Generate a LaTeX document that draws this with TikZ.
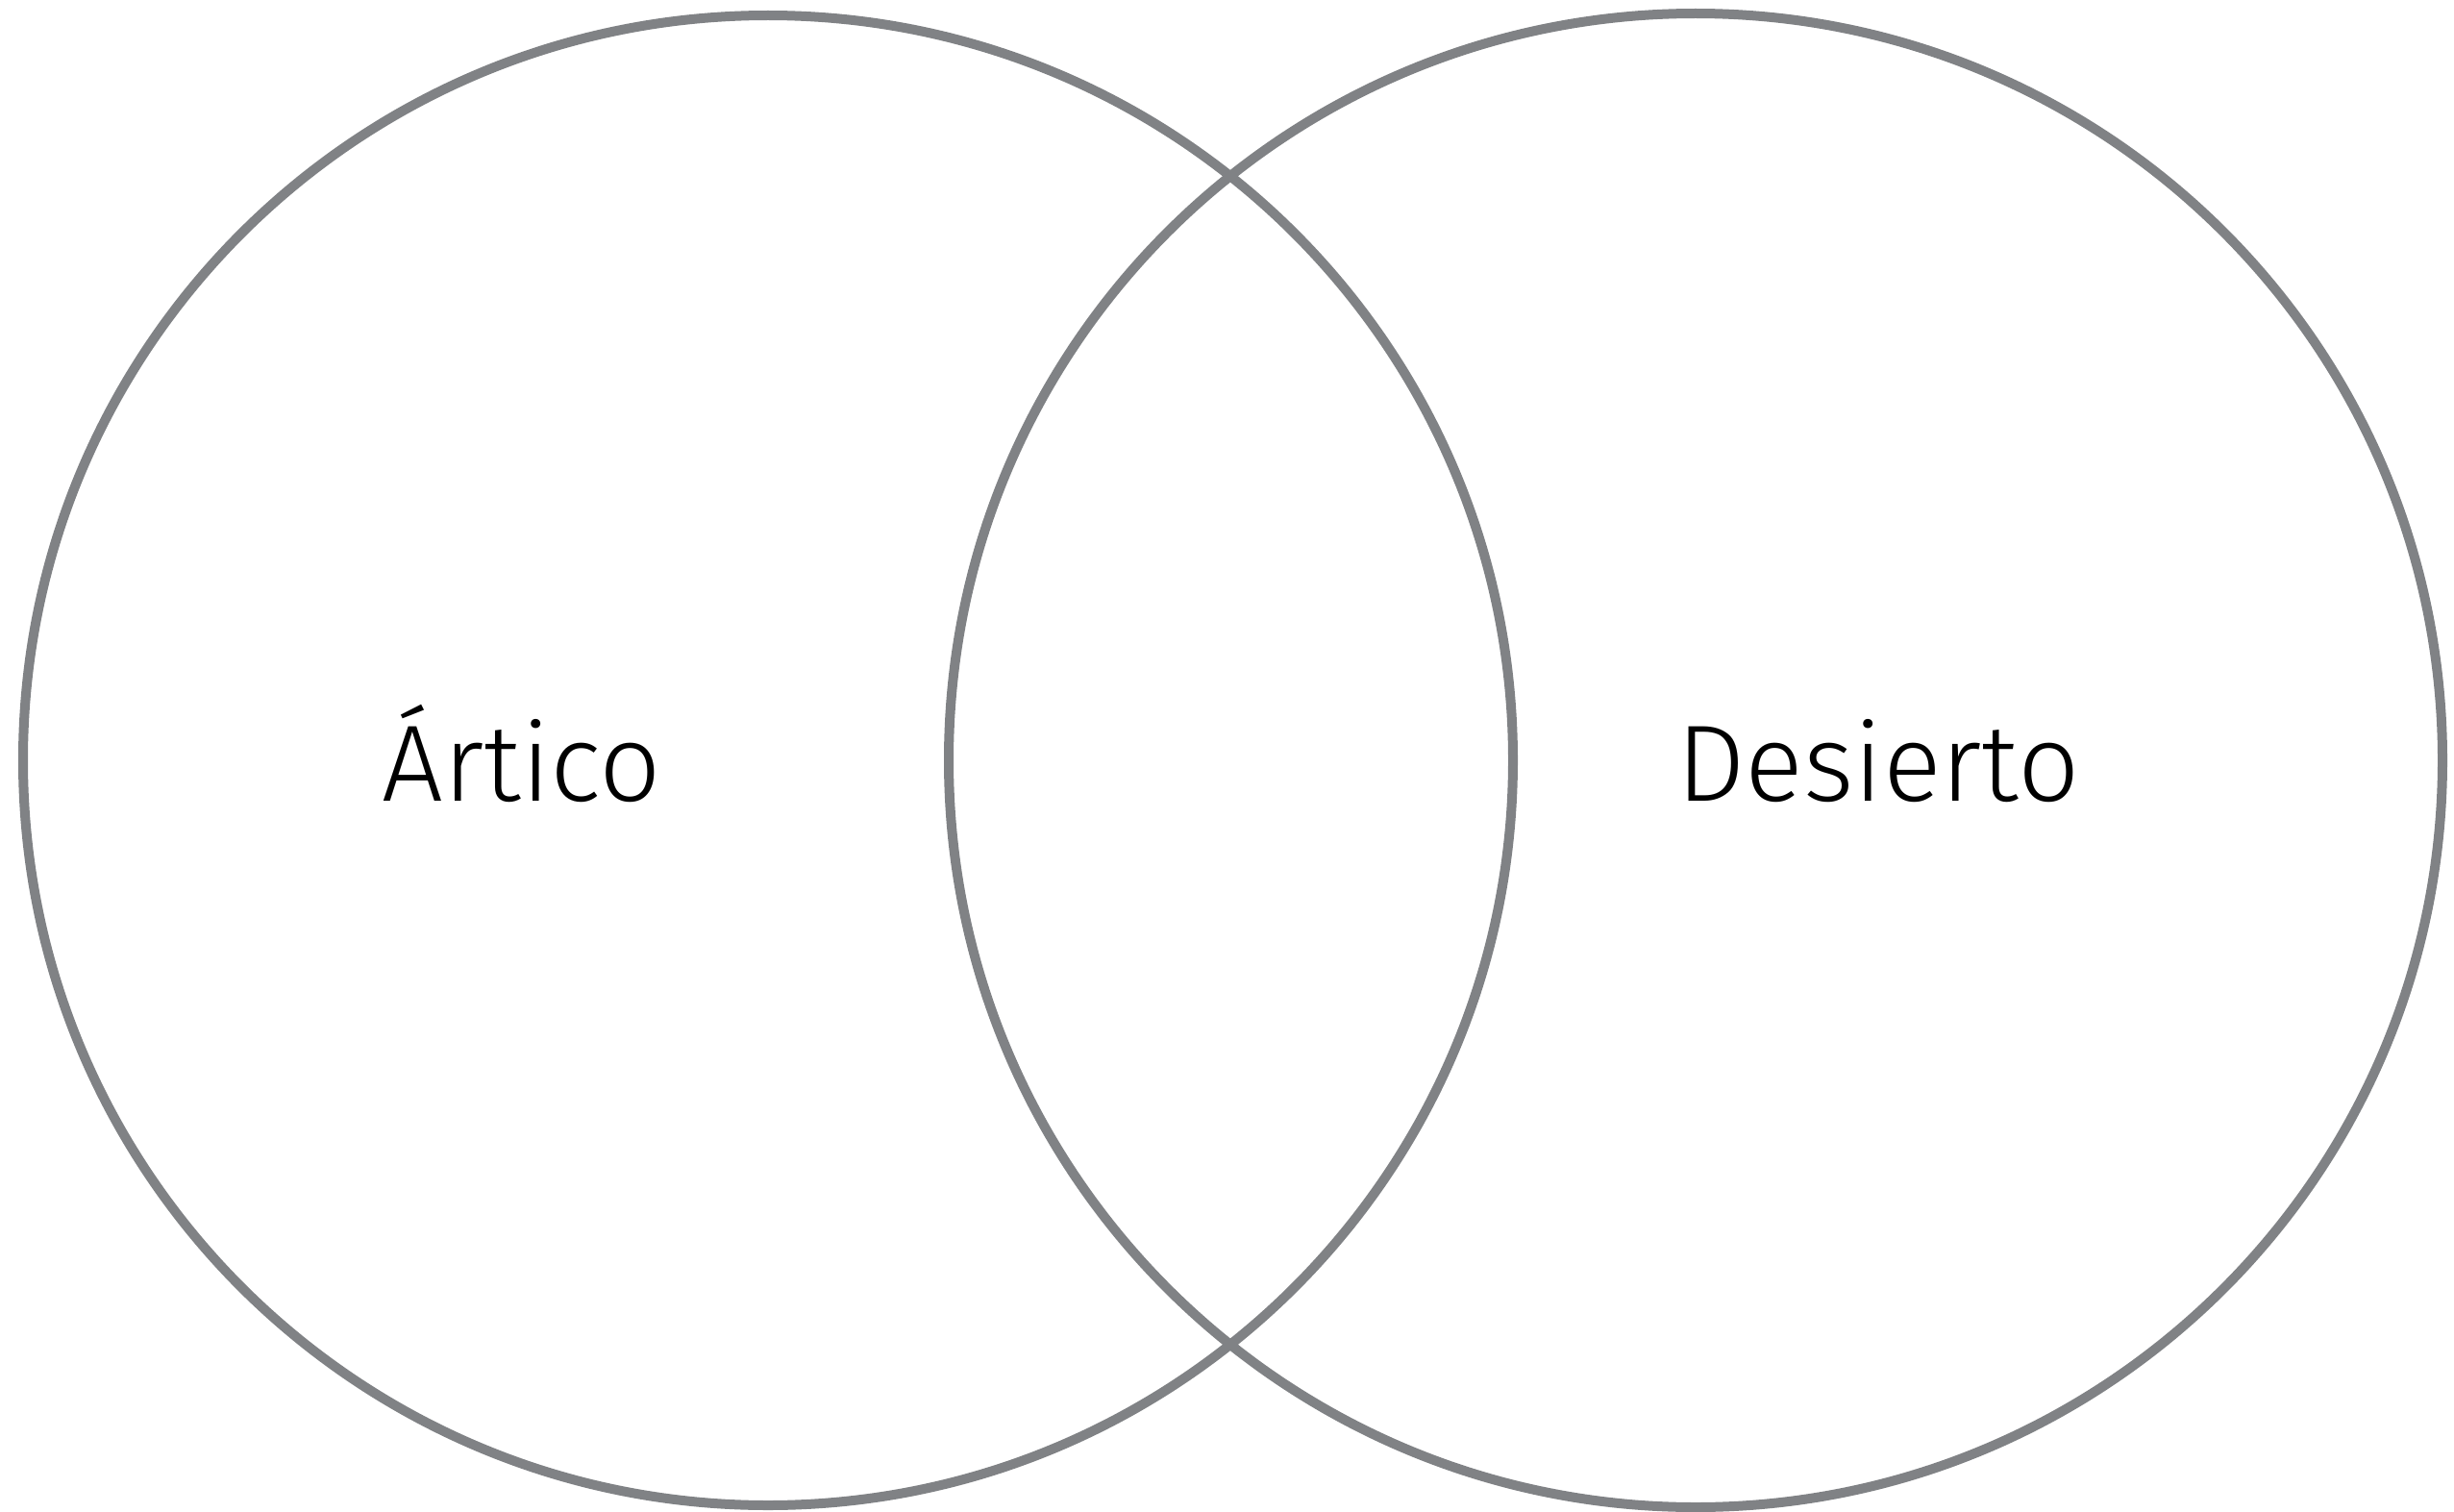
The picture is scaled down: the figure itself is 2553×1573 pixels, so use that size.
\documentclass[tikz,border=0pt]{standalone}
\usepackage{fontspec}
\setmainfont{Fira Sans}[UprightFont=* Light]
\definecolor{ring}{HTML}{808285}
\begin{document}
\begin{tikzpicture}[x=1pt,y=-1pt,
  ring/.style={draw=ring,line width=10pt},
  lbl/.style={anchor=base,inner sep=0pt,font=\fontsize{113}{120}\selectfont}]
\useasboundingbox (0,0) rectangle (2553,1573);
\draw[ring] (799,791) circle[radius=775];
\draw[ring] (1764,791) circle[radius=777];
\node[lbl] (a) at (543,833) {Ártico};
\node[lbl] (d) at (1954,833) {Desierto};
\end{tikzpicture}
\end{document}
